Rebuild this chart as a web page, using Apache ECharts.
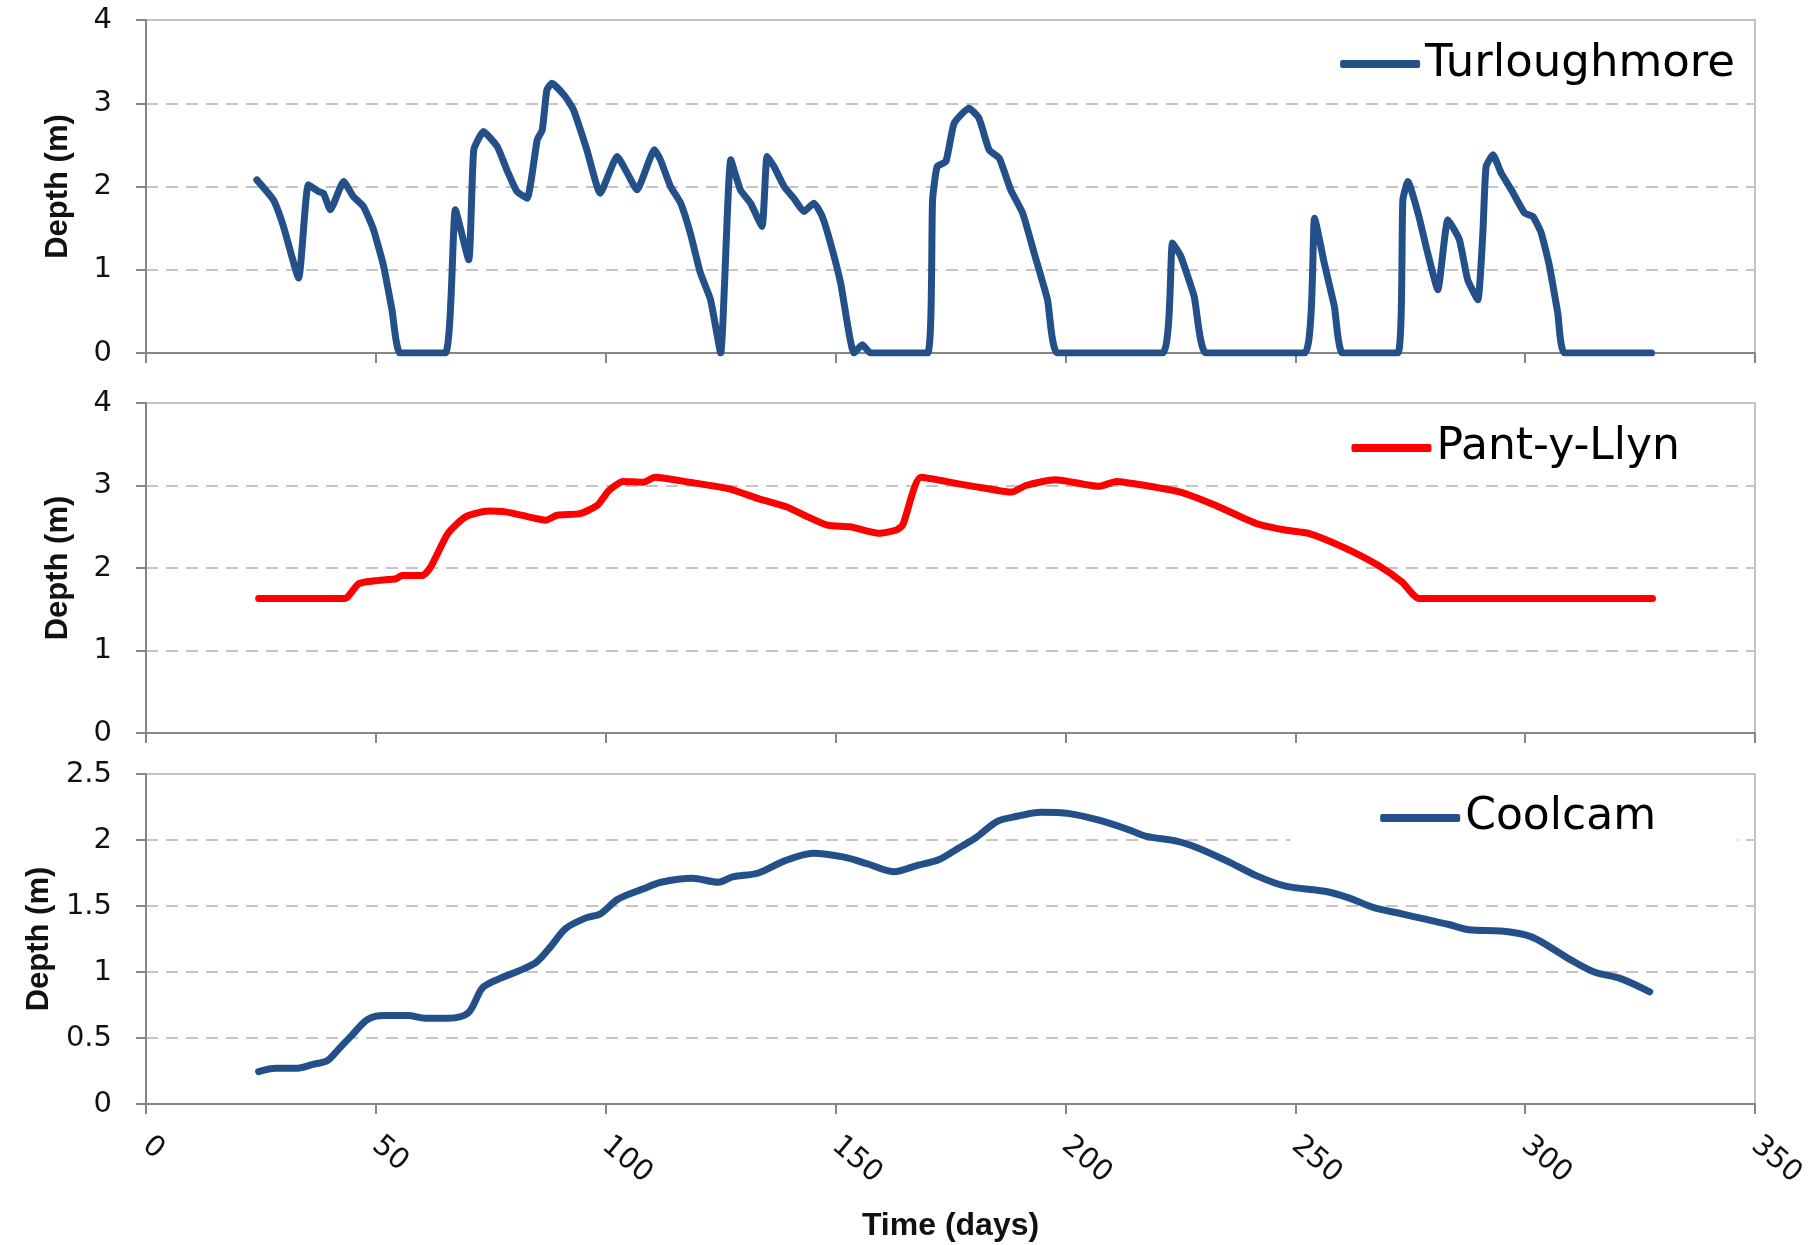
<!DOCTYPE html>
<html>
<head>
<meta charset="utf-8">
<script src="https://cdn.jsdelivr.net/npm/echarts@6/dist/echarts.min.js"></script>
<style>
html,body{margin:0;padding:0;background:#fff;}
#chart{width:1813px;height:1245px;}
</style>
</head>
<body>
<div id="chart"></div>
<script>
// ---------- DATA ----------
const seriesNames = ['Turloughmore', 'Pant-y-Llyn', 'Coolcam'];
const xTicks = [0, 50, 100, 150, 200, 250, 300, 350];

const turlDays = [
  24.1, 27.7, 29.9, 33.2, 35.3, 37.5, 38.6, 40.1, 43.0, 45.1,
  47.3, 49.5, 51.7, 53.5, 55.3, 65.1, 67.3, 70.2, 71.3, 73.4,
  76.4, 78.5, 80.7, 82.9, 85.1, 86.2, 87.2, 88.3, 91.2, 93.0,
  95.9, 98.8, 102.5, 104.7, 106.8, 110.6, 111.9, 114.1, 116.3, 118.4,
  120.6, 122.8, 125.0, 127.2, 129.3, 131.5, 134.0, 135.1, 136.6, 138.8,
  140.9, 143.1, 145.3, 147.1, 148.9, 151.1, 154.0, 155.8, 157.6, 170.0,
  171.1, 172.1, 174.0, 175.8, 179.0, 181.2, 183.4, 185.6, 188.1, 190.7,
  193.2, 196.1, 198.3, 221.1, 223.3, 225.1, 228.0, 230.6, 252.0, 254.2,
  256.3, 258.5, 260.3, 272.3, 273.4, 274.5, 276.7, 278.8, 281.0, 283.2,
  285.7, 287.5, 289.7, 290.8, 291.5, 293.0, 294.8, 297.0, 299.9, 301.7,
  303.5, 305.3, 307.1, 308.6, 327.5
];
const turlDepth = [
  2.08, 1.84, 1.52, 0.90, 2.02, 1.94, 1.92, 1.72, 2.06, 1.88,
  1.76, 1.48, 1.04, 0.52, 0.00, 0.00, 1.72, 1.12, 2.44, 2.66,
  2.48, 2.20, 1.94, 1.86, 2.56, 2.68, 3.16, 3.24, 3.08, 2.92,
  2.44, 1.92, 2.36, 2.16, 1.96, 2.44, 2.32, 2.00, 1.80, 1.44,
  0.96, 0.64, 0.00, 2.32, 1.96, 1.80, 1.52, 2.36, 2.24, 2.00,
  1.86, 1.70, 1.80, 1.64, 1.32, 0.84, 0.00, 0.10, 0.00, 0.00,
  1.84, 2.24, 2.30, 2.76, 2.94, 2.82, 2.44, 2.34, 1.96, 1.68,
  1.20, 0.64, 0.00, 0.00, 1.32, 1.16, 0.68, 0.00, 0.00, 1.62,
  1.08, 0.56, 0.00, 0.00, 1.84, 2.06, 1.68, 1.20, 0.76, 1.60,
  1.36, 0.88, 0.64, 1.44, 2.24, 2.38, 2.16, 1.96, 1.68, 1.64,
  1.44, 1.04, 0.48, 0.00, 0.00
];

const pantDays = [
  24.5, 43.2, 46.3, 50.7, 54.4, 55.7, 60.1, 61.9, 65.7, 69.5,
  74.5, 78.2, 83.2, 87.0, 89.4, 94.4, 98.2, 100.7, 103.8, 108.2,
  110.7, 118.2, 126.9, 133.2, 139.4, 143.2, 148.2, 153.2, 159.4, 163.2,
  164.6, 168.6, 176.8, 183.2, 188.3, 191.4, 197.8, 207.3, 211.1, 217.4,
  225.0, 232.6, 241.5, 247.8, 252.9, 260.5, 268.1, 273.2, 277.0, 327.7
];
const pantDepth = [
  1.63, 1.63, 1.81, 1.85, 1.87, 1.91, 1.91, 2.01, 2.42, 2.62,
  2.69, 2.68, 2.62, 2.58, 2.64, 2.66, 2.76, 2.94, 3.05, 3.04,
  3.10, 3.04, 2.96, 2.84, 2.74, 2.64, 2.52, 2.50, 2.42, 2.46,
  2.52, 3.10, 3.02, 2.96, 2.92, 3.00, 3.07, 2.99, 3.05, 3.00,
  2.92, 2.76, 2.54, 2.46, 2.42, 2.25, 2.03, 1.83, 1.63, 1.63
];

const coolDays = [
  24.5, 28.2, 32.6, 36.3, 39.5, 42.0, 44.5, 48.2, 51.9, 57.0,
  60.7, 65.7, 70.1, 73.2, 76.9, 81.9, 85.1, 88.2, 91.3, 95.7,
  98.8, 102.6, 108.2, 112.0, 118.8, 124.5, 127.6, 133.2, 138.8, 145.1,
  151.9, 156.9, 162.6, 168.0, 172.4, 176.8, 180.6, 185.1, 189.5, 194.6,
  200.9, 207.3, 213.6, 217.4, 224.4, 228.8, 235.2, 241.5, 247.9, 256.7,
  261.8, 266.9, 273.2, 278.3, 283.4, 287.8, 294.8, 301.1, 304.9, 310.0,
  315.0, 320.8, 327.1
];
const coolDepth = [
  0.245, 0.27, 0.27, 0.30, 0.33, 0.42, 0.51, 0.64, 0.67, 0.67,
  0.65, 0.65, 0.69, 0.88, 0.95, 1.02, 1.08, 1.20, 1.33, 1.41,
  1.44, 1.55, 1.63, 1.68, 1.71, 1.68, 1.72, 1.75, 1.84, 1.90,
  1.87, 1.82, 1.76, 1.81, 1.85, 1.94, 2.02, 2.14, 2.18, 2.21,
  2.20, 2.15, 2.08, 2.03, 1.99, 1.94, 1.84, 1.73, 1.65, 1.61,
  1.56, 1.49, 1.44, 1.40, 1.36, 1.32, 1.31, 1.27, 1.20, 1.09,
  1.00, 0.95, 0.85
];

// ---------- CHART ----------
const zip = (xs, ys) => xs.map((x, i) => [x, ys[i]]);
const BLUE = '#24508A';
const RED = '#FF0000';
const TXT = '#111111';
const tickFont = 'DejaVu Sans';

const grids = [
  {left: 146, right: 58, top: 20, height: 333},
  {left: 146, right: 58, top: 403, height: 330},
  {left: 146, right: 58, top: 774, height: 330}
].map(g => Object.assign(g, {show: true, borderColor: '#c4c4c4', borderWidth: 2, backgroundColor: 'transparent'}));

function xAx(i, showLabels) {
  return {
    type: 'value', gridIndex: i, min: 0, max: 350, interval: 50,
    axisLine: {show: true, onZero: false, lineStyle: {color: '#868686', width: 2}},
    axisTick: {show: true, length: 10, lineStyle: {color: '#868686', width: 2}},
    splitLine: {show: false},
    axisLabel: {show: showLabels, rotate: -40, margin: 38, fontFamily: tickFont, fontSize: 29, color: TXT},
    name: showLabels ? 'Time (days)' : '',
    nameLocation: 'middle', nameGap: 106,
    nameTextStyle: {fontFamily: 'Liberation Sans', fontWeight: 'bold', fontSize: 32, color: TXT}
  };
}
function yAx(i, max, interval) {
  return {
    type: 'value', gridIndex: i, min: 0, max: max, interval: interval,
    axisLine: {show: true, lineStyle: {color: '#868686', width: 2}},
    axisTick: {show: true, length: 10, lineStyle: {color: '#868686', width: 2}},
    splitLine: {show: true, lineStyle: {color: '#c4c4c4', width: 2, type: [12, 8]}},
    axisLabel: {margin: 34, fontFamily: tickFont, fontSize: 29, color: TXT},
    name: 'Depth (m)', nameLocation: 'middle', nameGap: 72, nameRotate: 90,
    nameTextStyle: {fontFamily: 'Liberation Sans', fontWeight: 'bold', fontSize: 31, color: TXT}
  };
}

function legend(name, right, top, size, extra) {
  return Object.assign({
    data: [name], right: right, top: top, orient: 'horizontal',
    icon: 'roundRect', itemWidth: 80, itemHeight: 8, padding: 0,
    textStyle: {fontFamily: 'DejaVu Sans', fontSize: size, color: '#000', lineHeight: 50}
  }, extra || {});
}

const option = {
  backgroundColor: '#ffffff',
  animation: false,
  grid: grids,
  xAxis: [xAx(0, false), xAx(1, false), xAx(2, true)],
  yAxis: [yAx(0, 4, 1), yAx(1, 4, 1), yAx(2, 2.5, 0.5)],
  legend: [
    legend(seriesNames[0], 78, 39, 45),
    legend(seriesNames[1], 133, 423, 44),
    legend(seriesNames[2], 76, 793, 44, {backgroundColor: '#ffffff', padding: [0, 81, 3, 90]})
  ],
  series: [
    {name: seriesNames[0], type: 'line', xAxisIndex: 0, yAxisIndex: 0, data: zip(turlDays, turlDepth),
     showSymbol: false, symbol: 'none', smooth: 0.15, lineStyle: {color: BLUE, width: 7, join: 'round', cap: 'round'}, itemStyle: {color: BLUE}},
    {name: seriesNames[1], type: 'line', xAxisIndex: 1, yAxisIndex: 1, data: zip(pantDays, pantDepth),
     showSymbol: false, symbol: 'none', smooth: 0.2, lineStyle: {color: RED, width: 7, join: 'round', cap: 'round'}, itemStyle: {color: RED}},
    {name: seriesNames[2], type: 'line', xAxisIndex: 2, yAxisIndex: 2, data: zip(coolDays, coolDepth),
     showSymbol: false, symbol: 'none', smooth: 0.3, lineStyle: {color: BLUE, width: 7, join: 'round', cap: 'round'}, itemStyle: {color: BLUE}}
  ]
};

const chart = echarts.init(document.getElementById('chart'), null, {renderer: 'canvas'});
chart.setOption(option);
</script>
</body>
</html>
